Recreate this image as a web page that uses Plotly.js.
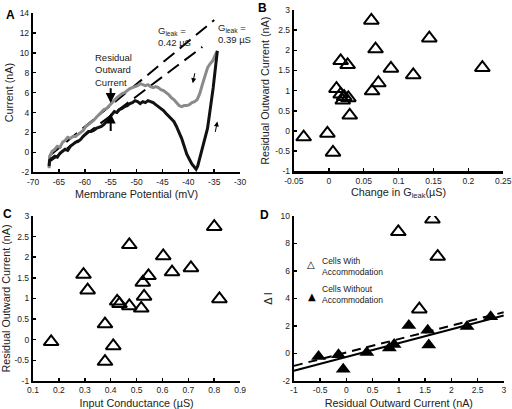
<!DOCTYPE html>
<html><head><meta charset="utf-8">
<script src="https://cdn.plot.ly/plotly-3.0.1.min.js"></script>
<style>html,body{margin:0;padding:0;background:#fff}#plot{width:512px;height:409px}</style>
</head><body><div id="plot"></div>
<script>
// ---- Panel A: I-V traces ----
const aGrayV = [-66.9,-66.8,-66.3,-65.8,-65.3,-64.8,-64.3,-63.8,-63.3,-62.8,-62.3,-61.8,-61.3,-60.8,-60.3,-59.8,-59.3,-58.8,-58.3,-57.8,-57.3,-56.8,-56.3,-55.8,-55.3,-54.8,-54.3,-53.8,-53.3,-52.8,-52.3,-51.8,-51.3,-50.8,-50.3,-49.8,-49.3,-48.8,-48.3,-47.8,-47.3,-46.8,-46.3,-45.8,-45.3,-44.8,-44.3,-43.8,-43.3,-42.8,-42.3,-41.8,-41.3,-40.8,-40.3,-39.8,-39.3,-38.8,-38.3,-37.8,-37.3,-36.8,-36.3,-35.8,-35.3,-34.8,-34.4];
const aGrayI = [-1.6,-0.4,0.1,0.3,0.6,0.5,1.0,1.2,1.5,1.4,1.6,1.6,1.8,2.0,2.2,2.6,2.8,3.0,3.2,3.5,3.8,4.0,4.3,4.4,4.7,5.0,5.3,5.5,5.7,5.9,6.0,6.2,6.4,6.5,6.6,6.7,6.9,6.8,6.7,6.8,6.6,6.5,6.6,6.5,6.3,6.2,6.0,5.8,5.5,5.3,5.0,4.7,4.6,4.7,4.7,4.8,5.0,5.1,5.3,5.9,6.8,7.7,8.5,8.9,9.2,9.8,10.2];
const aBlackV = [-66.9,-66.8,-66.3,-65.8,-65.3,-64.8,-64.3,-63.8,-63.3,-62.8,-62.3,-61.8,-61.3,-60.8,-60.3,-59.8,-59.3,-58.8,-58.3,-57.8,-57.3,-56.8,-56.3,-55.8,-55.3,-54.8,-54.3,-53.8,-53.3,-52.8,-52.3,-51.8,-51.3,-50.8,-50.3,-49.8,-49.3,-48.8,-48.3,-47.8,-47.3,-46.8,-46.3,-45.8,-45.3,-44.8,-44.3,-43.8,-43.3,-42.8,-42.3,-41.8,-41.3,-40.8,-40.3,-39.8,-39.3,-38.8,-38.5,-38.2,-37.8,-37.5,-37.2,-36.9,-36.6,-36.3,-36.0,-35.6,-35.2,-34.9,-34.6,-34.4];
const aBlackI = [-1.4,-0.8,-0.6,-0.4,-0.5,-0.1,0.1,0.3,0.2,0.6,0.8,1.0,1.1,1.3,1.6,1.9,2.1,2.1,2.2,2.4,2.5,2.6,2.8,3.1,3.5,3.7,4.1,4.0,4.3,4.4,4.6,4.7,4.9,5.0,5.2,5.1,4.9,5.1,5.0,5.2,5.1,5.0,4.8,4.6,4.4,4.2,3.9,3.6,3.3,3.1,2.6,2.0,1.4,0.6,-0.2,-0.7,-1.2,-1.5,-1.7,-1.4,-0.6,-0.2,0.5,1.0,1.6,2.4,3.5,4.8,6.5,7.9,9.2,10.2];
const leakUpperV = [-66.7,-35.0];
const leakUpperI = [-0.3,13.3];
const leakLowerV = [-66.7,-37.3];
const leakLowerI = [-0.9,10.6];

// ---- Panel B ----
const bDeltaG = [0.061,0.144,0.067,0.017,0.027,0.089,0.220,0.121,0.071,0.011,0.062,0.017,0.022,0.028,0.020,0.030,-0.002,-0.036,0.006];
const bResid  = [2.74,2.30,2.03,1.74,1.64,1.55,1.57,1.39,1.19,1.05,0.99,0.91,0.85,0.82,0.76,0.39,-0.06,-0.15,-0.53];

// ---- Panel C ----
const cInputG = [0.170,0.295,0.311,0.378,0.410,0.378,0.425,0.434,0.472,0.472,0.518,0.529,0.524,0.546,0.603,0.637,0.710,0.800,0.820];
const cResid  = [-0.05,1.58,1.20,0.38,-0.15,-0.53,0.93,0.87,0.82,2.30,0.76,1.05,1.39,1.55,2.03,1.64,1.74,2.74,0.99];

// ---- Panel D ----
const dOpenX = [1.64,0.99,1.74,1.39];
const dOpenY = [9.76,8.85,7.05,3.22];
const dFilledX = [-0.53,-0.15,-0.06,0.39,0.82,0.91,1.19,1.55,1.57,2.30,2.75];
const dFilledY = [-0.22,-0.10,-1.15,0.07,0.40,0.65,2.04,1.68,0.62,1.97,2.67];
const dFitX = [-1,3];
const dFitSolid = [-1.25,2.76];
const dFitDash = [-0.9,3.0];

// ---- tick labels ----
const aXTicks = [-70,-65,-60,-55,-50,-45,-40,-35,-30];
const aXText = ['-70','-65','-60','-55','-50','-45','-40','-35','-30'];
const aYTicks = [-2,0,2,4,6,8,10,12,14];
const aYText = ['-2','0','2','4','6','8','10','12','14'];
const bXTicks = [-0.05,0,0.05,0.1,0.15,0.2,0.25];
const bXText = ['-0.05','0','0.05','0.1','0.15','0.2','0.25'];
const residTicks = [-1,-0.5,0,0.5,1,1.5,2,2.5,3];
const residText = ['-1','-0.5','0','0.5','1','1.5','2','2.5','3'];
const cXTicks = [0.1,0.2,0.3,0.4,0.5,0.6,0.7,0.8,0.9];
const cXText = ['0.1','0.2','0.3','0.4','0.5','0.6','0.7','0.8','0.9'];
const dYTicks = [-2,0,2,4,6,8,10];
const dYText = ['-2','0','2','4','6','8','10'];

const FONT = 'Liberation Sans, Arial, Helvetica, sans-serif';
function ax(extra){
  return Object.assign({
    showline:true, linewidth:2.2, linecolor:'#000', ticks:'inside', ticklen:3, tickwidth:1.5, tickcolor:'#000',
    showgrid:false, zeroline:false, mirror:false, fixedrange:true,
    tickfont:{family:FONT,size:8.5,color:'#222'}, tickmode:'array'
  }, extra);
}
function ttl(t, standoff){ return {text:t, font:{family:FONT,size:10.8,color:'#222'}, standoff:standoff}; }

const openMarker = {symbol:'triangle-up-open', size:13, color:'#000', line:{width:2,color:'#000'}};

const data = [
  {x:leakUpperV, y:leakUpperI, xaxis:'x', yaxis:'y', mode:'lines', line:{color:'#000',width:2,dash:'14px,7px'}, hoverinfo:'skip'},
  {x:leakLowerV, y:leakLowerI, xaxis:'x', yaxis:'y', mode:'lines', line:{color:'#000',width:2,dash:'14px,7px'}, hoverinfo:'skip'},
  {x:aGrayV, y:aGrayI, xaxis:'x', yaxis:'y', mode:'lines', line:{color:'#8a8a8a',width:3}},
  {x:aBlackV, y:aBlackI, xaxis:'x', yaxis:'y', mode:'lines', line:{color:'#111',width:3}},
  {x:bDeltaG, y:bResid, xaxis:'x2', yaxis:'y2', mode:'markers', marker:openMarker},
  {x:cInputG, y:cResid, xaxis:'x3', yaxis:'y3', mode:'markers', marker:openMarker},
  {x:dFitX, y:dFitDash, xaxis:'x4', yaxis:'y4', mode:'lines', line:{color:'#000',width:2,dash:'9px,6px'}},
  {x:dFitX, y:dFitSolid, xaxis:'x4', yaxis:'y4', mode:'lines', line:{color:'#000',width:2}},
  {x:dOpenX, y:dOpenY, xaxis:'x4', yaxis:'y4', mode:'markers', marker:openMarker},
  {x:dFilledX, y:dFilledY, xaxis:'x4', yaxis:'y4', mode:'markers', marker:{symbol:'triangle-up', size:13, color:'#000'}}
];

function pa(t,x,y,size,extra){
  return Object.assign({text:t, xref:'paper', yref:'paper', x:x/512, y:1-y/409, showarrow:false,
    font:{family:FONT,size:size,color:'#000'}, xanchor:'center', yanchor:'middle'}, extra||{});
}
function arrow(x0,y0,x1,y1,w,head){
  return {xref:'x', yref:'y', axref:'x', ayref:'y', x:x1, y:y1, ax:x0, ay:y0, text:'', showarrow:true,
    arrowhead:head, arrowsize:1, arrowwidth:w, arrowcolor:'#000'};
}
const annFont = {family:FONT,size:9.5,color:'#222'};
const annotations = [
  pa('<b>A</b>',10,15,12), pa('<b>B</b>',262,8,12), pa('<b>C</b>',7,214,12), pa('<b>D</b>',264,215,12),
  {text:'Residual<br>Outward<br>Current', xref:'x', yref:'y', x:-54.5, y:8.3, showarrow:false, font:annFont, align:'left', xanchor:'center', yanchor:'middle'},
  {text:'G<sub>leak</sub> =<br>0.42 µS', xref:'x', yref:'y', x:-46.3, y:11.6, showarrow:false, font:annFont, align:'left', xanchor:'left', yanchor:'middle'},
  {text:'G<sub>leak</sub> =<br>0.39 µS', xref:'x', yref:'y', x:-34.7, y:11.9, showarrow:false, font:annFont, align:'left', xanchor:'left', yanchor:'middle'},
  arrow(-55,6.6,-55,4.95,2,2),
  arrow(-55,2.0,-55,3.9,2,2),
  arrow(-38.7,8.1,-39.15,6.95,1,2),
  arrow(-34.85,1.9,-34.4,3.1,1,2),
  pa('△',311,264,10,{font:{family:'DejaVu Sans',size:10,color:'#000'}}),
  pa('Cells With<br>Accommodation',320,266,8.5,{xanchor:'left', align:'left', font:{family:FONT,size:8.5,color:'#222'}}),
  pa('▲',312,296,10,{font:{family:'DejaVu Sans',size:10,color:'#000'}}),
  pa('Cells Without<br>Accommodation',320,294,8.5,{xanchor:'left', align:'left', font:{family:FONT,size:8.5,color:'#222'}})
];

const layout = {
  width:512, height:409, margin:{l:0,r:0,t:0,b:0}, paper_bgcolor:'#fff', plot_bgcolor:'rgba(0,0,0,0)',
  showlegend:false, font:{family:FONT},
  xaxis: ax({domain:[0.0645,0.469], anchor:'y', range:[-70,-30], tickvals:aXTicks, ticktext:aXText, title:ttl('Membrane Potential (mV)',5)}),
  yaxis: ax({domain:[0.579,0.968], anchor:'x', range:[-2,14], tickvals:aYTicks, ticktext:aYText, title:ttl('Current (nA)',4)}),
  xaxis2: ax({domain:[0.574,0.983], anchor:'y2', range:[-0.05,0.25], tickvals:bXTicks, ticktext:bXText, title:ttl('Change in G<sub>leak</sub>(µS)',4)}),
  yaxis2: ax({domain:[0.581,0.9756], anchor:'x2', range:[-1,3], tickvals:residTicks, ticktext:residText, title:ttl('Residual Outward Current (nA)',4)}),
  xaxis3: ax({domain:[0.0645,0.469], anchor:'y3', range:[0.1,0.9], tickvals:cXTicks, ticktext:cXText, title:ttl('Input Conductance (µS)',5)}),
  yaxis3: ax({domain:[0.0685,0.472], anchor:'x3', range:[-1,3], tickvals:residTicks, ticktext:residText, title:ttl('Residual Outward Current (nA)',4)}),
  xaxis4: ax({domain:[0.574,0.984], anchor:'y4', range:[-1,3], tickvals:residTicks, ticktext:residText, title:ttl('Residual Outward Current (nA)',5)}),
  yaxis4: ax({domain:[0.0685,0.472], anchor:'x4', range:[-2,10], tickvals:dYTicks, ticktext:dYText, title:ttl('Δ I',6)}),
  annotations: annotations
};
Plotly.newPlot('plot', data, layout, {displayModeBar:false, staticPlot:true});
</script></body></html>
